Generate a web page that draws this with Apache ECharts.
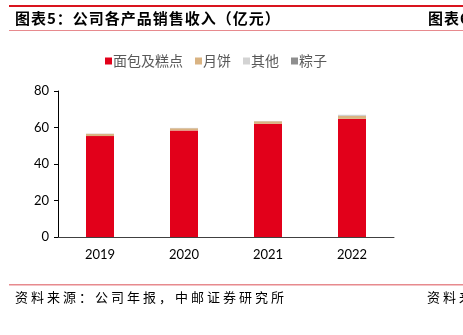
<!DOCTYPE html>
<html><head><meta charset="utf-8">
<script src="https://cdn.jsdelivr.net/npm/echarts@6/dist/echarts.min.js"></script>
<style>html,body{margin:0;padding:0;background:#fff}#c{width:463px;height:335px}</style>
</head><body><div id="c"></div>
<script>
var categories = ['2019', '2020', '2021', '2022'];
var bakery = [55.3, 58.4, 62.0, 64.7];
var mooncake = [1.2, 1.2, 1.4, 1.6];
var others = [0.1, 0.1, 0.1, 0.5];
var zongzi = [0.05, 0.05, 0.05, 0.1];
var seriesNames = ['面包及糕点', '月饼', '其他', '粽子'];
var yTicks = [0, 20, 40, 60, 80];
var titleText = '图表5：公司各产品销售收入（亿元）';
var sourceText = '资料来源：公司年报，中邮证券研究所';

var colors = ['#E2001A', '#D9B382', '#D3D3D3', '#8E8E8E'];
var chart = echarts.init(document.getElementById('c'), null, {renderer: 'canvas'});
var cjk = '"Noto Sans CJK SC", sans-serif';
var mctx = document.createElement('canvas').getContext('2d');

// lay out a string char by char with extra letter spacing
function spaced(text, x, y, size, weight, spacing) {
  mctx.font = weight + ' ' + size + 'px ' + cjk;
  var out = [];
  var cx = x;
  for (var i = 0; i < text.length; i++) {
    var ch = text[i];
    out.push({type: 'text', left: cx, top: y, silent: true,
      style: {text: ch, fontFamily: cjk, fontWeight: weight, fontSize: size, fill: '#000'}});
    cx += mctx.measureText(ch).width + spacing;
  }
  return out;
}
function bar(name, data, i) {
  return {name: name, type: 'bar', stack: 's', data: data, barWidth: 28,
    itemStyle: {color: colors[i]}};
}
var graphics = [
  {type: 'rect', shape: {x: 9, y: 5, width: 454, height: 2}, style: {fill: '#D9141E'}},
  {type: 'rect', shape: {x: 9, y: 30, width: 454, height: 1}, style: {fill: '#E78A8E'}},
  {type: 'rect', shape: {x: 9, y: 284, width: 454, height: 1.5}, style: {fill: '#E78A8E'}}
];
graphics = graphics
  .concat(spaced(titleText, 15, 11, 15, 'bold', 1))
  .concat(spaced('图表6', 428, 11, 15, 'bold', 1))
  .concat(spaced(sourceText, 15, 291, 13, 'normal', 3))
  .concat(spaced('资料来', 427, 291, 13, 'normal', 3));

chart.setOption({
  animation: false,
  grid: {left: 58, right: 69, top: 91, bottom: 98},
  legend: {top: 49, left: 100, itemWidth: 7, itemHeight: 7, itemGap: 12,
    icon: 'rect', textStyle: {fontFamily: cjk, fontSize: 14, color: '#595959', padding: [0, 0, 0, -4]},
    data: seriesNames},
  xAxis: {type: 'category', data: categories,
    axisLine: {lineStyle: {color: '#404040', width: 1}}, axisTick: {show: false},
    axisLabel: {color: '#000', fontSize: 13, fontFamily: 'Lato, sans-serif', margin: 11}},
  yAxis: {type: 'value', min: yTicks[0], max: yTicks[yTicks.length - 1], interval: 20,
    splitLine: {show: false},
    axisLine: {show: true, lineStyle: {color: '#000', width: 1}},
    axisTick: {show: true, length: 4, lineStyle: {color: '#000'}},
    axisLabel: {color: '#000', fontSize: 13, fontFamily: 'Lato, sans-serif', margin: 9}},
  series: [bar(seriesNames[0], bakery, 0), bar(seriesNames[1], mooncake, 1),
           bar(seriesNames[2], others, 2), bar(seriesNames[3], zongzi, 3)],
  graphic: graphics
});
</script></body></html>
